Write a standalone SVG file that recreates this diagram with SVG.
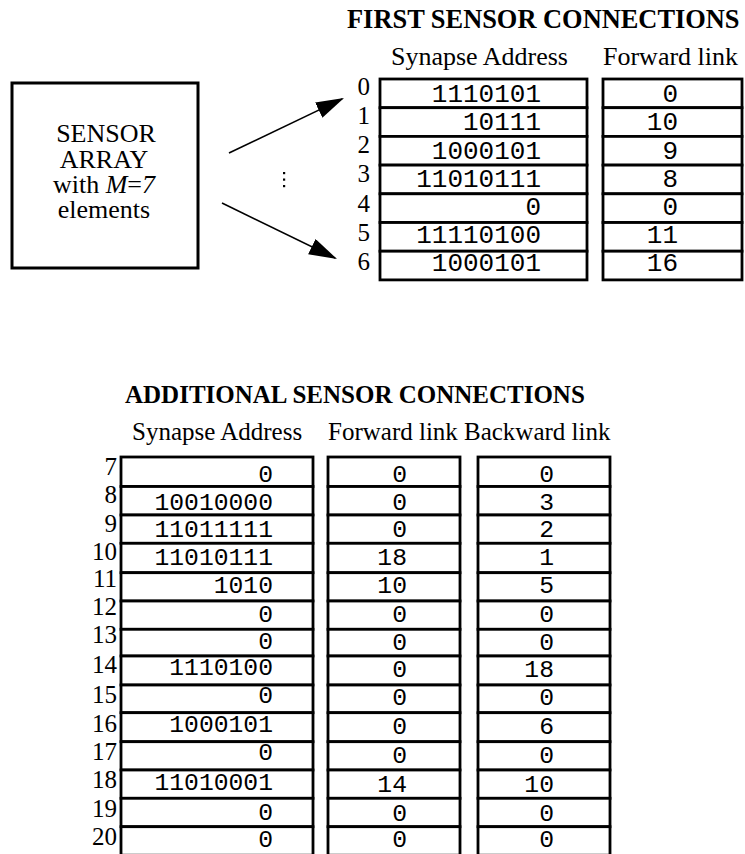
<svg xmlns="http://www.w3.org/2000/svg" width="745" height="854" viewBox="0 0 745 854">
<defs>
<style>
.serif{font-family:"Liberation Serif","Times New Roman",serif;fill:#000}
.hd{font-weight:bold}
.mono{font-family:"Liberation Mono","Courier New",monospace;fill:#000;text-anchor:end}
.cell{fill:#fff;stroke:#000;stroke-width:2.8}
.lbl{text-anchor:end}
.conn{stroke:#000;stroke-width:1.6;fill:none}
</style>
<marker id="ah" markerUnits="userSpaceOnUse" markerWidth="30" markerHeight="18" refX="26" refY="8.5" orient="auto">
<path d="M0,0 L28,8.5 L0,17 Z" fill="#000"/>
</marker>
</defs>
<rect width="745" height="854" fill="#fff"/>

<g id="sensor-array">
<rect x="12" y="83" width="186" height="185" fill="#fff" stroke="#000" stroke-width="3"/>
<text class="serif" font-size="26" text-anchor="middle" x="106" y="142">SENSOR</text>
<text class="serif" font-size="26" text-anchor="middle" x="104" y="168">ARRAY</text>
<text class="serif" font-size="26" text-anchor="middle" x="104" y="193">with <tspan font-style="italic">M</tspan>=<tspan font-style="italic">7</tspan></text>
<text class="serif" font-size="26" text-anchor="middle" x="104" y="218">elements</text>
</g>

<g id="connectors">
<line class="conn" x1="229" y1="153" x2="342.2" y2="98.9" marker-end="url(#ah)"/>
<line class="conn" x1="222" y1="203" x2="335.2" y2="258.1" marker-end="url(#ah)"/>
<rect x="283" y="172" width="2.2" height="2.2" fill="#000"/>
<rect x="283" y="178.5" width="2.2" height="2.2" fill="#000"/>
<rect x="283" y="185" width="2.2" height="2.2" fill="#000"/>
</g>

<g id="first-table">
<text class="serif hd" font-size="26.4" x="347" y="28">FIRST SENSOR CONNECTIONS</text>
<text class="serif" font-size="26" x="391" y="65">Synapse Address</text>
<text class="serif" font-size="26" x="603" y="65">Forward link</text>
<g class="serif lbl" font-size="25">
<text x="370" y="95">0</text>
<text x="370" y="124">1</text>
<text x="370" y="153">2</text>
<text x="370" y="182">3</text>
<text x="370" y="212">4</text>
<text x="370" y="241">5</text>
<text x="370" y="270">6</text>
</g>
<g>
<rect class="cell" x="380" y="79" width="207" height="28.7"/>
<rect class="cell" x="380" y="107.7" width="207" height="28.7"/>
<rect class="cell" x="380" y="136.4" width="207" height="28.7"/>
<rect class="cell" x="380" y="165.1" width="207" height="28.7"/>
<rect class="cell" x="380" y="193.8" width="207" height="28.7"/>
<rect class="cell" x="380" y="222.5" width="207" height="28.7"/>
<rect class="cell" x="380" y="251.2" width="207" height="28.7"/>
<rect class="cell" x="603" y="79" width="139" height="28.7"/>
<rect class="cell" x="603" y="107.7" width="139" height="28.7"/>
<rect class="cell" x="603" y="136.4" width="139" height="28.7"/>
<rect class="cell" x="603" y="165.1" width="139" height="28.7"/>
<rect class="cell" x="603" y="193.8" width="139" height="28.7"/>
<rect class="cell" x="603" y="222.5" width="139" height="28.7"/>
<rect class="cell" x="603" y="251.2" width="139" height="28.7"/>
</g>
<g class="mono" font-size="26">
<text x="541" y="102">1110101</text>
<text x="541" y="130">10111</text>
<text x="541" y="159">1000101</text>
<text x="541" y="187">11010111</text>
<text x="541" y="215">0</text>
<text x="541" y="243">11110100</text>
<text x="541" y="271">1000101</text>
<text x="678" y="102">0</text>
<text x="678" y="130">10</text>
<text x="678" y="159">9</text>
<text x="678" y="187">8</text>
<text x="678" y="215">0</text>
<text x="678" y="243">11</text>
<text x="678" y="271">16</text>
</g>
</g>

<g id="additional-table">
<text class="serif hd" font-size="25" x="125" y="403">ADDITIONAL SENSOR CONNECTIONS</text>
<text class="serif" font-size="25" x="132" y="440">Synapse Address</text>
<text class="serif" font-size="25" x="328" y="440">Forward link</text>
<text class="serif" font-size="25" x="464" y="440">Backward link</text>
<g class="serif lbl" font-size="25">
<text x="117" y="475">7</text>
<text x="117" y="503">8</text>
<text x="117" y="532">9</text>
<text x="117" y="560">10</text>
<text x="117" y="587">11</text>
<text x="117" y="615">12</text>
<text x="117" y="643">13</text>
<text x="117" y="673">14</text>
<text x="117" y="703">15</text>
<text x="117" y="732">16</text>
<text x="117" y="760">17</text>
<text x="117" y="788">18</text>
<text x="117" y="817">19</text>
<text x="117" y="845">20</text>
</g>
<g id="rows">
<rect class="cell" x="121" y="457" width="192" height="29.5"/>
<rect class="cell" x="121" y="486.5" width="192" height="28.5"/>
<rect class="cell" x="121" y="515" width="192" height="28.3"/>
<rect class="cell" x="121" y="543.3" width="192" height="29.4"/>
<rect class="cell" x="121" y="572.7" width="192" height="28.3"/>
<rect class="cell" x="121" y="601" width="192" height="28.3"/>
<rect class="cell" x="121" y="629.3" width="192" height="26.7"/>
<rect class="cell" x="121" y="656" width="192" height="29"/>
<rect class="cell" x="121" y="685" width="192" height="27.7"/>
<rect class="cell" x="121" y="712.7" width="192" height="29"/>
<rect class="cell" x="121" y="741.7" width="192" height="28.3"/>
<rect class="cell" x="121" y="770" width="192" height="28.3"/>
<rect class="cell" x="121" y="798.3" width="192" height="28.4"/>
<rect class="cell" x="121" y="826.7" width="192" height="28.5"/>
<rect class="cell" x="328" y="457" width="132" height="29.5"/>
<rect class="cell" x="328" y="486.5" width="132" height="28.5"/>
<rect class="cell" x="328" y="515" width="132" height="28.3"/>
<rect class="cell" x="328" y="543.3" width="132" height="29.4"/>
<rect class="cell" x="328" y="572.7" width="132" height="28.3"/>
<rect class="cell" x="328" y="601" width="132" height="28.3"/>
<rect class="cell" x="328" y="629.3" width="132" height="26.7"/>
<rect class="cell" x="328" y="656" width="132" height="29"/>
<rect class="cell" x="328" y="685" width="132" height="27.7"/>
<rect class="cell" x="328" y="712.7" width="132" height="29"/>
<rect class="cell" x="328" y="741.7" width="132" height="28.3"/>
<rect class="cell" x="328" y="770" width="132" height="28.3"/>
<rect class="cell" x="328" y="798.3" width="132" height="28.4"/>
<rect class="cell" x="328" y="826.7" width="132" height="28.5"/>
<rect class="cell" x="478" y="457" width="132" height="29.5"/>
<rect class="cell" x="478" y="486.5" width="132" height="28.5"/>
<rect class="cell" x="478" y="515" width="132" height="28.3"/>
<rect class="cell" x="478" y="543.3" width="132" height="29.4"/>
<rect class="cell" x="478" y="572.7" width="132" height="28.3"/>
<rect class="cell" x="478" y="601" width="132" height="28.3"/>
<rect class="cell" x="478" y="629.3" width="132" height="26.7"/>
<rect class="cell" x="478" y="656" width="132" height="29"/>
<rect class="cell" x="478" y="685" width="132" height="27.7"/>
<rect class="cell" x="478" y="712.7" width="132" height="29"/>
<rect class="cell" x="478" y="741.7" width="132" height="28.3"/>
<rect class="cell" x="478" y="770" width="132" height="28.3"/>
<rect class="cell" x="478" y="798.3" width="132" height="28.4"/>
<rect class="cell" x="478" y="826.7" width="132" height="28.5"/>
</g>
<g class="mono" font-size="24.7">
<text x="273" y="482">0</text>
<text x="273" y="510">10010000</text>
<text x="273" y="537">11011111</text>
<text x="273" y="565">11010111</text>
<text x="273" y="593">1010</text>
<text x="273" y="622">0</text>
<text x="273" y="649">0</text>
<text x="273" y="675">1110100</text>
<text x="273" y="703">0</text>
<text x="273" y="732">1000101</text>
<text x="273" y="760">0</text>
<text x="273" y="790">11010001</text>
<text x="273" y="820">0</text>
<text x="273" y="847">0</text>
<text x="407" y="482">0</text>
<text x="407" y="510">0</text>
<text x="407" y="537">0</text>
<text x="407" y="565">18</text>
<text x="407" y="593">10</text>
<text x="407" y="622">0</text>
<text x="407" y="650">0</text>
<text x="407" y="677">0</text>
<text x="407" y="705">0</text>
<text x="407" y="734">0</text>
<text x="407" y="763">0</text>
<text x="407" y="792">14</text>
<text x="407" y="821">0</text>
<text x="407" y="847">0</text>
<text x="554" y="482">0</text>
<text x="554" y="510">3</text>
<text x="554" y="537">2</text>
<text x="554" y="565">1</text>
<text x="554" y="593">5</text>
<text x="554" y="622">0</text>
<text x="554" y="650">0</text>
<text x="554" y="677">18</text>
<text x="554" y="705">0</text>
<text x="554" y="734">6</text>
<text x="554" y="763">0</text>
<text x="554" y="792">10</text>
<text x="554" y="821">0</text>
<text x="554" y="847">0</text>
</g>
</g>
</svg>
